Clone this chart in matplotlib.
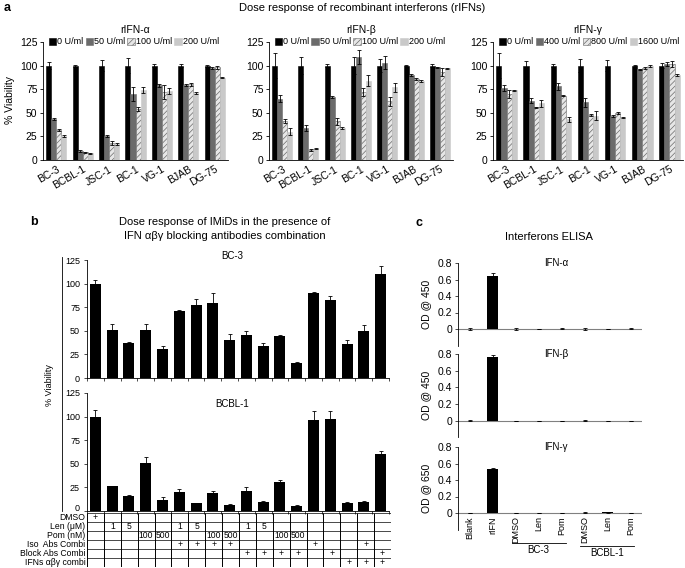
import matplotlib
matplotlib.use("Agg")
import matplotlib.pyplot as plt
from matplotlib.transforms import ScaledTranslation
import numpy as np

plt.rcParams['font.family'] = ['Liberation Sans', 'DejaVu Sans']
plt.rcParams['hatch.linewidth'] = 0.5

# ---------------- data ----------------
cells_a = ["BC-3", "BCBL-1", "JSC-1", "BC-1", "VG-1", "BJAB", "DG-75"]

alpha_doses = ["0 U/ml", "50 U/ml", "100 U/ml", "200 U/ml"]
alpha_vals = [[100, 100, 100, 100, 100, 100, 100],
              [43, 10, 25, 70, 79, 79, 97],
              [32, 8, 18, 54, 72, 80, 98],
              [25, 7, 17, 74, 73, 71, 87]]
alpha_err = [[4, 1, 6, 8, 2, 2, 1],
             [1, 1, 1, 7, 2, 1, 1],
             [1, 0.5, 2, 2, 7, 2, 2],
             [1, 0.5, 1, 3, 3, 1, 0.5]]

beta_doses = ["0 U/ml", "50 U/ml", "100 U/ml", "200 U/ml"]
beta_vals = [[100, 100, 100, 100, 100, 100, 100],
             [65, 34, 67, 109, 103, 90, 98],
             [41, 11, 41, 72, 62, 86, 93],
             [30, 12, 34, 84, 77, 84, 97]]
beta_err = [[13, 9, 2, 9, 7, 0.5, 2],
            [4, 3, 1, 7, 7, 1, 1],
            [2, 1, 4, 4, 5, 1, 4],
            [4, 0.5, 1, 6, 5, 1, 0.5]]

gamma_doses = ["0 U/ml", "400 U/ml", "800 U/ml", "1600 U/ml"]
gamma_vals = [[100, 100, 100, 100, 100, 100, 100],
              [76, 63, 78, 61, 47, 96, 102],
              [70, 56, 68, 48, 50, 97, 102],
              [74, 60, 43, 47, 45, 100, 90]]
gamma_err = [[13, 5, 2, 7, 6, 0.5, 3],
             [3, 3, 4, 5, 1, 0.5, 2],
             [4, 0.5, 0.5, 1, 1, 1, 3],
             [0.5, 4, 3, 5, 0.5, 1, 1]]

bc3_vals = [100, 51, 37, 51, 31, 71, 77, 79, 40, 46, 34, 44, 16, 90, 83, 36, 50, 110]
bc3_err = [4, 6, 1, 6, 3, 1, 7, 11, 7, 4, 3, 2, 1, 1, 3.5, 4, 6, 9]
bcbl_vals = [100, 26, 16, 51, 12, 20, 8, 19, 6, 21, 10, 31, 5.5, 96, 97, 9, 10, 60]
bcbl_err = [7, 1, 1, 6, 3, 3, 1, 2, 1, 4, 1, 2, 1, 10, 9, 1, 1, 3.5]

table_rows = ["DMSO", "Len (\u03bcM)", "Pom (nM)", "Iso  Abs Combi", "Block Abs Combi", "IFNs \u03b1\u03b2\u03b3 combi"]
dmso_row = ["+", "", "", "", "", "", "", "", "", "", "", "", "", "", "", "", "", ""]
len_row = ["", "1", "5", "", "", "1", "5", "", "", "1", "5", "", "", "", "", "", "", ""]
pom_row = ["", "", "", "100", "500", "", "", "100", "500", "", "", "100", "500", "", "", "", "", ""]
iso_row = ["", "", "", "", "", "+", "+", "+", "+", "", "", "", "", "+", "", "", "+", ""]
block_row = ["", "", "", "", "", "", "", "", "", "+", "+", "+", "+", "", "+", "", "", "+"]
ifn_row = ["", "", "", "", "", "", "", "", "", "", "", "", "", "", "", "+", "+", "+"]

elisa_cats = ["Blank", "rIFN", "DMSO", "Len", "Pom", "DMSO", "Len", "Pom"]
elisa_a = [0, 0.64, 0.003, 0, 0.002, 0.002, 0.001, 0.002]
elisa_a_err = [0.015, 0.04, 0.015, 0.003, 0.006, 0.01, 0.004, 0.008]
elisa_b = [0, 0.76, 0, 0, 0, 0.002, 0, 0]
elisa_b_err = [0.004, 0.03, 0.002, 0.002, 0.002, 0.004, 0.002, 0.002]
elisa_g = [0, 0.53, 0, 0, 0, 0.005, 0.008, 0.002]
elisa_g_err = [0.003, 0.012, 0.002, 0.002, 0.002, 0.008, 0.008, 0.004]

# ---------------- figure ----------------
W, H = 685, 568
fig = plt.figure(figsize=(W / 100, H / 100), dpi=100)


def ax_px(l, t, r, b):
    return fig.add_axes([l / W, 1 - b / H, (r - l) / W, (b - t) / H])


def ftext(x, y, s, **kw):
    fig.text(x / W, 1 - y / H, s, **kw)


dose_colors = ["#000000", "#6b6b6b", "#e6e6e6", "#c9c9c9"]
dose_hatch = [None, None, "//////", None]
dose_edge = ["#000000", "#6b6b6b", "#6a6a6a", "#c9c9c9"]

panels_a = [("rIFN-\u03b1", alpha_doses, alpha_vals, alpha_err, (43, 228)),
            ("rIFN-\u03b2", beta_doses, beta_vals, beta_err, (269, 453)),
            ("rIFN-\u03b3", gamma_doses, gamma_vals, gamma_err, (493, 683))]

x = np.arange(len(cells_a))
w = 0.19
for title, doses, vals, errs, (l, r) in panels_a:
    ax = ax_px(l, 42, r, 160)
    for k in range(4):
        ax.bar(x + (k - 1.5) * w, vals[k], w, color=dose_colors[k], hatch=dose_hatch[k],
               edgecolor=dose_edge[k], linewidth=0.4, label=doses[k],
               yerr=errs[k], error_kw=dict(ecolor="black", elinewidth=0.6, capsize=1.2, capthick=0.6))
    ax.set_xlim(-0.5, len(cells_a) - 0.5)
    ax.set_ylim(0, 125)
    ax.set_yticks([0, 25, 50, 75, 100, 125])
    ax.set_xticks(x)
    ax.set_xticklabels(cells_a, rotation=30, ha="right", rotation_mode="anchor", fontsize=7.5)
    ax.tick_params(axis="y", labelsize=7.5, length=2, width=0.6, pad=2)
    ax.tick_params(axis="x", length=0, pad=3)
    for s in ["top", "right"]:
        ax.spines[s].set_visible(False)
    for s in ["left", "bottom"]:
        ax.spines[s].set_linewidth(0.6)
    ftext((l + r) / 2, 30, title, ha="center", va="center", fontsize=7.5)
    ax.legend(ncol=4, loc="center left", bbox_to_anchor=(0.03, 1.0), frameon=False, fontsize=6.5,
              handlelength=0.8, handleheight=0.8, handletextpad=0.15, columnspacing=0.25,
              borderaxespad=0, borderpad=0)

ftext(10, 100, "% Viability", rotation=90, ha="center", va="center", fontsize=7.5)
ftext(362, 8, "Dose response of recombinant interferons (rIFNs)", ha="center", va="center", fontsize=8)
ftext(4, 8, "a", fontsize=9, fontweight="bold", ha="left", va="center")

# ---------------- panel b ----------------
ftext(30, 222, "b", fontsize=9, fontweight="bold", ha="left", va="center")
ftext(225, 222, "Dose response of IMiDs in the presence of", ha="center", va="center", fontsize=8)
ftext(225, 236, "IFN \u03b1\u03b2\u03b3 blocking antibodies combination", ha="center", va="center", fontsize=8)

xb = np.arange(len(bc3_vals))
for vals, errs, name, (t, b), ty in [(bc3_vals, bc3_err, "BC-3", (260, 378), 256),
                                     (bcbl_vals, bcbl_err, "BCBL-1", (393, 511), 404)]:
    ax = ax_px(87, t, 389, b)
    ax.bar(xb, vals, 0.65, color="black",
           yerr=[np.zeros(len(errs)), errs],
           error_kw=dict(ecolor="black", elinewidth=0.6, capsize=1.2, capthick=0.6))
    ax.set_xlim(-0.5, len(xb) - 0.5)
    ax.set_ylim(0, 125)
    ax.set_yticks([0, 25, 50, 75, 100, 125])
    ax.set_xticks(np.arange(-0.5, len(xb)), minor=True)
    ax.set_xticks([])
    ax.tick_params(axis="y", labelsize=6.5, length=2, width=0.5, pad=3)
    ax.tick_params(axis="x", which="minor", length=2, width=0.5)
    for s in ["top", "right"]:
        ax.spines[s].set_visible(False)
    for s in ["left", "bottom"]:
        ax.spines[s].set_linewidth(0.6)
    ftext(232, ty, name, ha="center", va="center", fontsize=7)
    if name == "BCBL-1":
        fig.canvas.draw()
        lab0 = ax.get_yticklabels()[0]
        lab0.set_transform(lab0.get_transform() + ScaledTranslation(0, 2.5 / 72, fig.dpi_scale_trans))

ftext(50, 385, "% Viability", rotation=90, ha="center", va="center", fontsize=6.5)
fig.add_artist(plt.Line2D([62 / W, 62 / W], [1 - 257 / H, 1 - 511 / H], color="black", lw=0.6))

# table
axt = ax_px(87, 513, 391, 567)
axt.set_xlim(-0.5, len(xb) - 0.5)
axt.set_ylim(len(table_rows), 0)
axt.axis("off")
axt.hlines(np.arange(len(table_rows) + 1), -0.5, len(xb) - 0.5, color="black", lw=0.5)
axt.vlines(np.arange(-0.5, len(xb)), 0, len(table_rows), color="black", lw=0.7)
rows = [dmso_row, len_row, pom_row, iso_row, block_row, ifn_row]
for i, (lab, row) in enumerate(zip(table_rows, rows)):
    axt.text(-0.6, i + 0.55, lab, ha="right", va="center", fontsize=6.2)
    for j, s in enumerate(row):
        if s:
            axt.text(j, i + 0.55, s, ha="center", va="center", fontsize=6.2)

# ---------------- panel c ----------------
ftext(415, 223, "c", fontsize=9, fontweight="bold", ha="left", va="center")
ftext(549, 237, "Interferons ELISA", ha="center", va="center", fontsize=8)

xc = np.arange(len(elisa_cats))
elisa = [(elisa_a, elisa_a_err, "IFN-\u03b1", "OD @ 450", (263, 345.5)),
         (elisa_b, elisa_b_err, "IFN-\u03b2", "OD @ 450", (354, 437.5)),
         (elisa_g, elisa_g_err, "IFN-\u03b3", "OD @ 650", (447, 529.5))]
for i, (vals, errs, name, ylab, (t, b)) in enumerate(elisa):
    ax = ax_px(458, t, 642, b)
    ax.bar(xc, vals, 0.45, color="black", yerr=errs,
           error_kw=dict(ecolor="black", elinewidth=0.6, capsize=1.2, capthick=0.6))
    ax.axhline(0, color="#808080", lw=0.8, zorder=0)
    ax.set_xlim(-0.5, len(xc) - 0.5)
    ax.set_ylim(-0.2, 0.8)
    ax.set_yticks([0, 0.2, 0.4, 0.6, 0.8])
    ax.set_yticklabels(["0", "0.2", "0.4", "0.6", "0.8"])
    ax.set_xticks([])
    ax.tick_params(axis="y", labelsize=7.5, length=2, width=0.5, pad=2)
    for s in ["top", "right", "bottom"]:
        ax.spines[s].set_visible(False)
    ax.spines["left"].set_linewidth(0.6)
    ax.set_ylabel(ylab, fontsize=7.5, labelpad=5)
    ax.text(0.47, 1.0, name, transform=ax.transAxes, ha="left", va="center", fontsize=7)
    if i == 2:
        for j, c in enumerate(elisa_cats):
            ax.text(j, -0.04, c, rotation=90, ha="center", va="top", fontsize=6.5)
        ax.plot([1.85, 4.2], [-0.36, -0.36], color="black", lw=0.6, clip_on=False)
        ax.plot([4.8, 7.15], [-0.4, -0.4], color="black", lw=0.6, clip_on=False)
        ax.text(3.0, -0.45, "BC-3", ha="center", va="center", fontsize=7)
        ax.text(6.0, -0.49, "BCBL-1", ha="center", va="center", fontsize=7)

fig.savefig("out.png", dpi=100)
